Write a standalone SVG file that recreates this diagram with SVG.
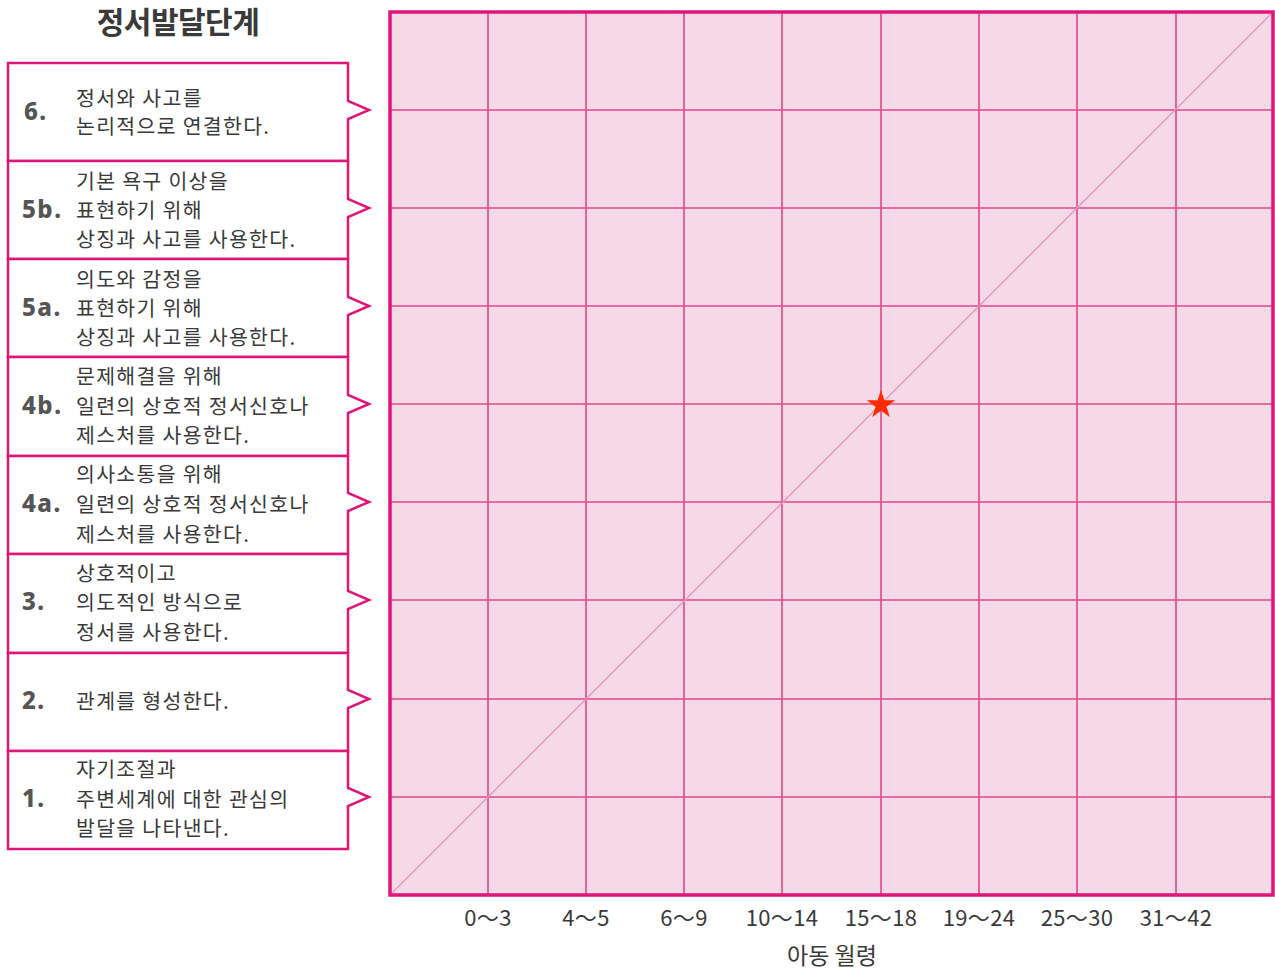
<svg xmlns="http://www.w3.org/2000/svg" width="1275" height="970" viewBox="0 0 1275 970">
<style>
.t{font-family:"Noto Sans CJK KR","Noto Sans",sans-serif;fill:#3a3a3a}
.lbl{font-size:20.5px;letter-spacing:1.3px}
.num{font-size:24px;font-weight:800;fill:#555;font-family:"Noto Sans","Noto Sans CJK KR",sans-serif;letter-spacing:1.5px}
.ax{font-size:22px;text-anchor:middle;letter-spacing:0.3px}
.box{fill:#fff;stroke:#e0157a;stroke-width:2.5}
.gl{stroke:#e0468a;stroke-width:1.6}
</style>
<rect width="1275" height="970" fill="#fff"/>
<text class="t" x="178" y="33" font-size="30" font-weight="700" text-anchor="middle" fill="#2a2a2a" letter-spacing="-0.5">정서발달단계</text>

<g id="chart">
<rect x="390" y="12" width="883" height="883" fill="#f6d9e6"/>
<g class="gl">
<line x1="488" y1="12" x2="488" y2="895"/><line x1="586" y1="12" x2="586" y2="895"/><line x1="684" y1="12" x2="684" y2="895"/><line x1="782" y1="12" x2="782" y2="895"/><line x1="881" y1="12" x2="881" y2="895"/><line x1="979" y1="12" x2="979" y2="895"/><line x1="1077" y1="12" x2="1077" y2="895"/><line x1="1176" y1="12" x2="1176" y2="895"/>
<line x1="390" y1="110" x2="1273" y2="110"/><line x1="390" y1="208" x2="1273" y2="208"/><line x1="390" y1="306" x2="1273" y2="306"/><line x1="390" y1="404" x2="1273" y2="404"/><line x1="390" y1="502" x2="1273" y2="502"/><line x1="390" y1="600" x2="1273" y2="600"/><line x1="390" y1="699" x2="1273" y2="699"/><line x1="390" y1="797" x2="1273" y2="797"/>
</g>
<line x1="390" y1="895" x2="1273" y2="12" stroke="#eb98bc" stroke-width="1.5"/>
<rect x="390" y="12" width="883" height="883" fill="none" stroke="#e0157a" stroke-width="3.5"/>
<polygon points="881,390 884.4,400.3 895.3,400.3 886.5,406.7 889.8,417.1 881,410.7 872.2,417.1 875.5,406.7 866.7,400.3 877.6,400.3" fill="#ff2a00"/>
</g>

<g id="stage6"><path class="box" d="M8,63 H348 V101 L369,110 L348,119 V161 H8 Z"/><text class="t num" x="24" y="120">6.</text><text class="t lbl" x="76" y="106">정서와 사고를</text><text class="t lbl" x="76" y="134">논리적으로 연결한다.</text></g>
<g id="stage5b"><path class="box" d="M8,161 H348 V199 L369,208 L348,217 V259 H8 Z"/><text class="t num" x="22" y="218">5b.</text><text class="t lbl" x="76" y="189">기본 욕구 이상을</text><text class="t lbl" x="76" y="218">표현하기 위해</text><text class="t lbl" x="76" y="247">상징과 사고를 사용한다.</text></g>
<g id="stage5a"><path class="box" d="M8,259 H348 V297 L369,306 L348,315 V357 H8 Z"/><text class="t num" x="22" y="316">5a.</text><text class="t lbl" x="76" y="287">의도와 감정을</text><text class="t lbl" x="76" y="316">표현하기 위해</text><text class="t lbl" x="76" y="345">상징과 사고를 사용한다.</text></g>
<g id="stage4b"><path class="box" d="M8,357 H348 V395 L369,404 L348,413 V456 H8 Z"/><text class="t num" x="22" y="414">4b.</text><text class="t lbl" x="76" y="384">문제해결을 위해</text><text class="t lbl" x="76" y="414">일련의 상호적 정서신호나</text><text class="t lbl" x="76" y="443">제스처를 사용한다.</text></g>
<g id="stage4a"><path class="box" d="M8,456 H348 V493 L369,502 L348,511 V554 H8 Z"/><text class="t num" x="22" y="512">4a.</text><text class="t lbl" x="76" y="482">의사소통을 위해</text><text class="t lbl" x="76" y="512">일련의 상호적 정서신호나</text><text class="t lbl" x="76" y="542">제스처를 사용한다.</text></g>
<g id="stage3"><path class="box" d="M8,554 H348 V591 L369,600 L348,609 V653 H8 Z"/><text class="t num" x="22" y="610">3.</text><text class="t lbl" x="76" y="581">상호적이고</text><text class="t lbl" x="76" y="610">의도적인 방식으로</text><text class="t lbl" x="76" y="640">정서를 사용한다.</text></g>
<g id="stage2"><path class="box" d="M8,653 H348 V690 L369,699 L348,708 V751 H8 Z"/><text class="t num" x="22" y="709">2.</text><text class="t lbl" x="76" y="709">관계를 형성한다.</text></g>
<g id="stage1"><path class="box" d="M8,751 H348 V788 L369,797 L348,806 V849 H8 Z"/><text class="t num" x="22" y="807">1.</text><text class="t lbl" x="76" y="777">자기조절과</text><text class="t lbl" x="76" y="807">주변세계에 대한 관심의</text><text class="t lbl" x="76" y="836">발달을 나타낸다.</text></g>

<g id="axis">
<text class="t ax" x="488" y="926">0～3</text>
<text class="t ax" x="586" y="926">4～5</text>
<text class="t ax" x="684" y="926">6～9</text>
<text class="t ax" x="782" y="926">10～14</text>
<text class="t ax" x="881" y="926">15～18</text>
<text class="t ax" x="979" y="926">19～24</text>
<text class="t ax" x="1077" y="926">25～30</text>
<text class="t ax" x="1176" y="926">31～42</text>
<text class="t" x="832" y="964" font-size="23" text-anchor="middle">아동 월령</text>
</g>
</svg>
